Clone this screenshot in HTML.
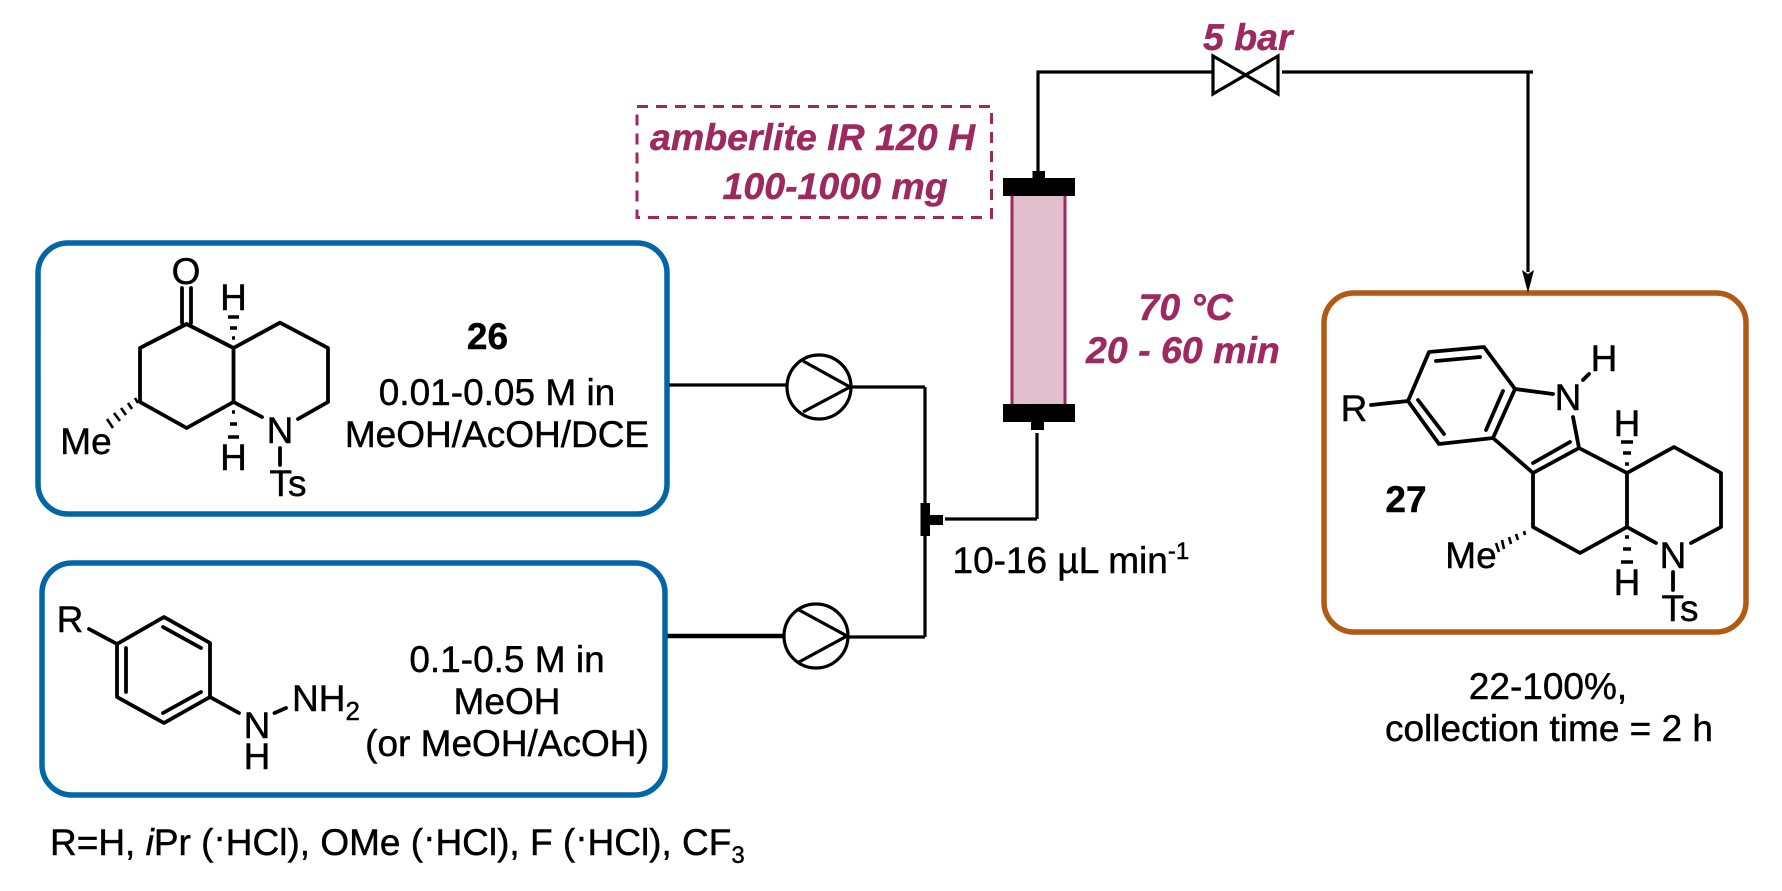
<!DOCTYPE html>
<html><head><meta charset="utf-8"><style>
html,body{margin:0;padding:0;background:#fff}
svg{display:block}
text{font-family:"Liberation Sans",Arial,sans-serif;font-size:37px;fill:#000;stroke:#000;stroke-width:.45px}
.c{text-anchor:middle}
.m{font-weight:bold;font-style:italic;fill:#9c2a60;stroke:#9c2a60;font-size:37.5px}
.b{font-weight:bold}
.l{stroke:#000;stroke-width:3.8;fill:none;stroke-linecap:round;stroke-linejoin:round}
.w{stroke:#000;stroke-width:3.2;fill:none}
</style></head><body>
<svg width="1782" height="891" viewBox="0 0 1782 891" xmlns="http://www.w3.org/2000/svg">
<rect width="1782" height="891" fill="#fff"/>
<!-- boxes -->
<rect x="38" y="243" width="629" height="271" rx="30" fill="none" stroke="#0066a6" stroke-width="5.5"/>
<rect x="42" y="563" width="623" height="232" rx="30" fill="none" stroke="#0066a6" stroke-width="5.5"/>
<rect x="1324" y="293" width="422" height="339" rx="30" fill="none" stroke="#b05a14" stroke-width="5.5"/>
<rect x="637" y="106.500" width="354.500" height="111" fill="none" stroke="#9c2a60" stroke-width="3" stroke-dasharray="11 8"/>
<!-- reactor -->
<rect x="1012" y="190" width="53" height="220" fill="#e2bfcd" stroke="#9c2a60" stroke-width="3"/>
<rect x="1003" y="178" width="72" height="18" fill="#000"/>
<rect x="1032.500" y="171" width="12.500" height="8" fill="#000"/>
<rect x="1003" y="404" width="72" height="18" fill="#000"/>
<rect x="1031" y="422" width="13" height="8" fill="#000"/>
<!-- tubing -->
<path class="w" d="M1038 172V72H1213M1282 72H1533M1528 72V272"/>
<path d="M1522 270L1528 274L1534 270L1528 293Z" fill="#000"/>
<path class="w" d="M1213 56L1278 94V56L1213 94Z" stroke-linejoin="miter"/>
<path class="w" d="M669 385H787M851 387H925M925 387V637M667.500 636H784" />
<path class="w" d="M848 637H925M945 519H1037M1037 433V519"/>
<path d="M667.500 636H784" stroke="#000" stroke-width="4.500"/>
<rect x="920.500" y="503" width="9.500" height="33" fill="#000"/>
<rect x="930" y="515" width="13" height="10" fill="#000"/>
<!-- pumps -->
<circle cx="819" cy="387" r="32" fill="none" stroke="#000" stroke-width="3.200"/>
<path class="w" d="M803 361L850 387L803 412" stroke-width="3.800"/>
<circle cx="816" cy="636" r="32" fill="none" stroke="#000" stroke-width="3.200"/>
<path class="w" d="M799 610L847 636L799 662" stroke-width="3.800"/>
<!-- 26 structure -->
<path class="l" d="M186.600 324L233.500 348L280 322.700L328 348V402L298 419M262 417L233.500 402V348M186.600 324L140 348V402L186.600 428L233.500 402M182 288V323M191 288V323M280 448V465"/>
<path d="M228 317H239M230 328H237M232 338H235M228 437H239M230 424H237M232 412H235" stroke="#000" stroke-width="3.500" fill="none"/>
<path d="M135 398L138 403M128 403L132 409M121 408L126 415M114 413L120 421M107 419L113 428" stroke="#000" stroke-width="2.600" fill="none"/>
<text class="c" x="186" y="284">O</text>
<text class="c" x="233.500" y="310">H</text>
<text class="c" x="233.500" y="470">H</text>
<text class="c" x="280" y="443">N</text>
<text class="c" x="288" y="496">Ts</text>
<text class="c" x="86" y="454">Me</text>
<text class="c b" x="487.500" y="349">26</text>
<text class="c" x="497" y="405">0.01-0.05 M in</text>
<text class="c" x="497" y="447">MeOH/AcOH/DCE</text>
<!-- hydrazine -->
<path class="l" d="M164 617L210 643V697L164 723L117 697V644ZM163 627L201 648M126 648V692M163 713L201 692M89 629L117 644M210 697L239 713M274.500 713L286 708"/>
<text class="c" x="70" y="632">R</text>
<text class="c" x="257" y="738">N</text>
<text class="c" x="257" y="769">H</text>
<text x="292" y="711">NH<tspan font-size="26" dy="9">2</tspan></text>
<text class="c" x="507" y="672">0.1-0.5 M in</text>
<text class="c" x="507" y="714">MeOH</text>
<text class="c" x="507" y="756">(or MeOH/AcOH)</text>
<text x="50" y="855">R=H, <tspan font-style="italic">i</tspan>Pr (<tspan dy="-6">·</tspan><tspan dy="6">HCl), OMe (</tspan><tspan dy="-6">·</tspan><tspan dy="6">HCl), F (</tspan><tspan dy="-6">·</tspan><tspan dy="6">HCl), CF</tspan><tspan font-size="24" dy="8">3</tspan></text>
<!-- labels -->
<text class="m" x="650" y="150">amberlite IR 120 H</text>
<text class="m" x="722.500" y="199">100-1000 mg</text>
<text class="m" x="1203" y="50">5 bar</text>
<text class="m" x="1138.500" y="320">70 °C</text>
<text class="m" x="1086" y="363">20 - 60 min</text>
<text x="952.500" y="573">10-16 µL min<tspan font-size="24" dy="-14">-1</tspan></text>
<!-- 27 structure -->
<path class="l" d="M1429 352L1484 347L1515 389L1493 438L1439 444L1408 401ZM1436 361L1480 357M1503 391L1486 430M1418 400L1444 434M1371 405L1408 401M1515 389L1553 394M1573 417L1579 448M1493 438L1533 473L1579 448L1627 473L1674 447L1721 473V527L1691 543M1656 543L1627 527V473M1627 527L1580 553L1533 527V473M1570 442L1533 463M1583 380L1589 374M1673 572V590"/>
<path d="M1621 442H1633M1623 453H1631M1625 464H1629M1621 562H1633M1623 549H1631M1625 537H1629" stroke="#000" stroke-width="3.500" fill="none"/>
<path d="M1524 531L1525 535M1516 534L1518 540M1509 537L1511 544M1502 540L1504 549M1496 543L1499 552" stroke="#000" stroke-width="2.600" fill="none"/>
<text class="c" x="1354" y="421">R</text>
<text class="c" x="1568" y="410">N</text>
<text class="c" x="1604" y="371">H</text>
<text class="c" x="1627" y="436">H</text>
<text class="c" x="1627" y="595">H</text>
<text class="c" x="1673" y="568">N</text>
<text class="c" x="1680" y="621">Ts</text>
<text class="c" x="1471" y="568">Me</text>
<text class="c b" x="1406" y="512">27</text>
<text class="c" x="1548" y="699">22-100%,</text>
<text class="c" x="1549" y="741">collection time = 2 h</text>
</svg>
</body></html>
